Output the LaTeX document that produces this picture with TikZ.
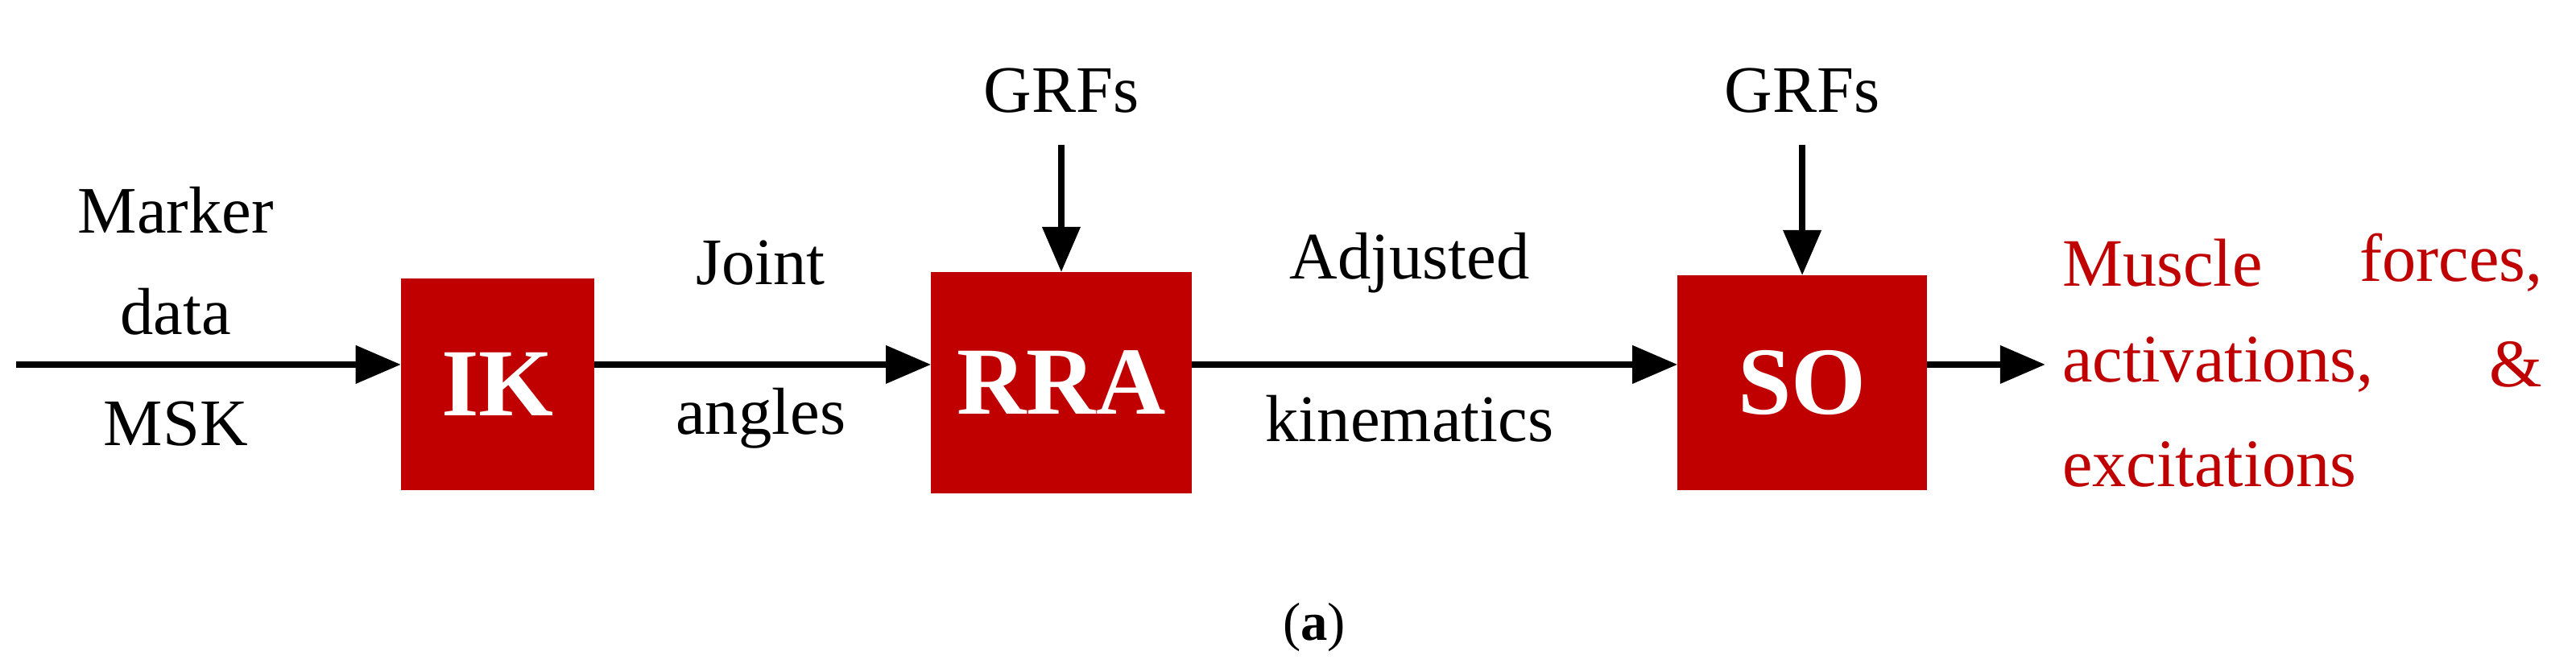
\documentclass[tikz,border=0pt]{standalone}
\usepackage{fontspec}
\setmainfont{Liberation Serif}
\usetikzlibrary{arrows.meta}
\begin{document}
\begin{tikzpicture}[x=0.0204cm,y=-0.0204cm,
 box/.style={fill=myred,draw=myred,text=white,font=\fontsize{34}{36}\selectfont\bfseries,inner sep=0pt},
 lab/.style={font=\fontsize{23.5}{25}\selectfont,inner sep=0pt},
 rlab/.style={lab,font=\fontsize{24}{26}\selectfont,text=myred},
 arr/.style={line width=2.4pt,-{Triangle[length=16pt,width=13pt]}}]
\definecolor{myred}{RGB}{192,0,0}
\useasboundingbox (0,0) rectangle (1568,404);
\node[box,minimum width=2.39cm,minimum height=2.61cm] (ik) at (303,234) {IK};
\node[box,minimum width=3.22cm,minimum height=2.73cm] (rra) at (646,233) {RRA};
\node[box,minimum width=3.08cm,minimum height=2.65cm] (so) at (1097,233) {SO};
\coordinate (s) at (10,222);
\coordinate (e) at (1245,222);
\draw[arr] (s) -- (s -| ik.west);
\draw[arr] (ik.east |- s) -- (s -| rra.west);
\draw[arr] (rra.east |- s) -- (s -| so.west);
\draw[arr] (so.east |- s) -- (e);
\node[lab] (m1) at (107,128) {Marker};
\node[lab] (m2) at (107,190) {data};
\node[lab] (m3) at (107,258) {MSK};
\node[lab] (j1) at (463,160) {Joint};
\node[lab] (j2) at (463,255) {angles};
\node[lab] (a1) at (858,160) {Adjusted};
\node[lab] (a2) at (858,255) {kinematics};
\node[lab] (g1) at (646,55) {GRFs};
\node[lab] (g2) at (1097,55) {GRFs};
\draw[arr] (g1.south |- 0,88) -- (rra.north);
\draw[arr] (g2.south |- 0,88) -- (so.north);
\node[rlab,anchor=west] (r1) at (1255,160) {Muscle};
\node[rlab,anchor=east] (r2) at (1548,160) {forces,};
\node[rlab,anchor=west] (r3) at (1255,222) {activations,};
\node[rlab,anchor=east] (r4) at (1548,222) {\&};
\node[rlab,anchor=west] (r5) at (1255,283) {excitations};
\node[lab,font=\fontsize{19}{21}\selectfont] (cap) at (800,382) {(\textbf{a})};
\end{tikzpicture}
\end{document}
